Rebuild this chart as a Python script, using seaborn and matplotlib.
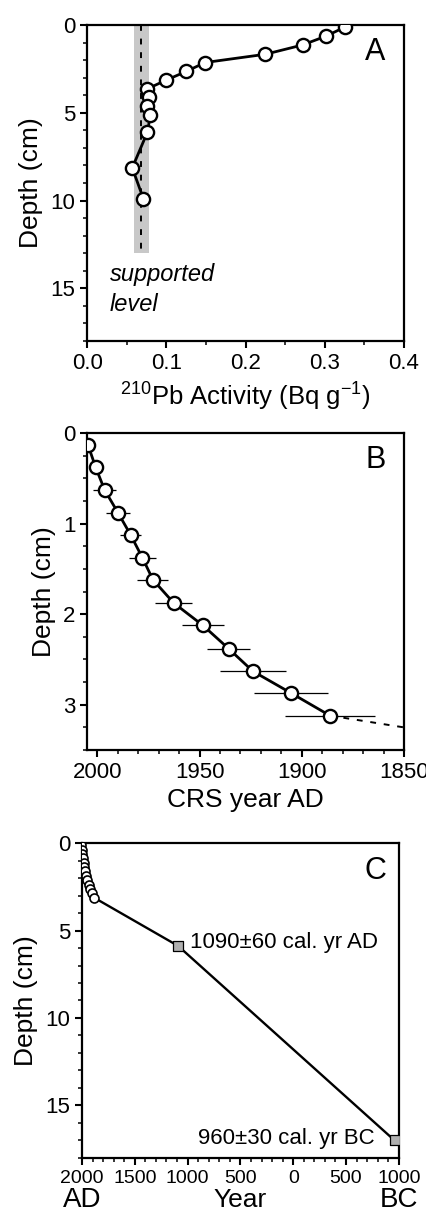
import matplotlib
matplotlib.use("Agg")
import matplotlib.pyplot as plt
from matplotlib.ticker import MultipleLocator, FixedLocator
import pandas as pd
import seaborn as sns

# panel A: 210Pb activity profile
pb_activity = [0.325, 0.302, 0.272, 0.225, 0.149, 0.125, 0.099, 0.076, 0.078, 0.075, 0.080, 0.076, 0.057, 0.071]
pb_depth = [0.13, 0.63, 1.14, 1.67, 2.14, 2.65, 3.16, 3.64, 4.13, 4.64, 5.13, 6.12, 8.14, 9.89]
supported_mean = 0.0685
supported_low = 0.059
supported_high = 0.078
supported_bottom = 13

# panel B: CRS ages
crs_depth = [0.13, 0.38, 0.63, 0.88, 1.125, 1.375, 1.62, 1.875, 2.125, 2.38, 2.63, 2.87, 3.12]
crs_year = [2004.6, 2000.8, 1996.4, 1989.9, 1983.7, 1978.0, 1972.8, 1962.7, 1948.3, 1935.8, 1923.9, 1905.3, 1886.2]
crs_err = [0.5, 2.0, 5.5, 5.7, 5.3, 6.7, 7.6, 9.0, 10.4, 10.4, 16.0, 18.0, 22.0]
extrap_year = [1886.2, 1850]
extrap_depth = [3.12, 3.25]

# panel C: age-depth model with radiocarbon dates
c14_year = [1090, -960]
c14_depth = [5.88, 17.0]
c14_labels = ["1090\u00b160 cal. yr AD", "960\u00b130 cal. yr BC"]

sns.set_style("ticks")
plt.rcParams["font.family"] = ["Liberation Sans", "DejaVu Sans"]
plt.rcParams["mathtext.fontset"] = "custom"
plt.rcParams["mathtext.rm"] = "Liberation Sans"
plt.rcParams["axes.linewidth"] = 1.6
plt.rcParams["text.color"] = "black"
plt.rcParams["axes.labelcolor"] = "black"

fig = plt.figure(figsize=(4.27, 12.17), dpi=100)
axA = fig.add_axes([0.204, 0.7198, 0.742, 0.2597])
axB = fig.add_axes([0.204, 0.3837, 0.742, 0.2605])
axC = fig.add_axes([0.192, 0.0485, 0.742, 0.2588])

for ax in (axA, axB, axC):
    ax.tick_params(which="major", direction="out", length=5, width=1.5, labelsize=16, colors="black")
    ax.tick_params(which="minor", direction="out", length=3, width=1.3)
    for s in ax.spines.values():
        s.set_color("black")

# ---- A
axA.fill_betweenx([0, supported_bottom], supported_low, supported_high, color="#c8c8c8", lw=0, zorder=1)
axA.plot([supported_mean, supported_mean], [0, supported_bottom], color="black", ls=(0, (3, 4)), lw=1.4, zorder=2)
dfA = pd.DataFrame({"act": pb_activity, "depth": pb_depth})
sns.lineplot(data=dfA, x="act", y="depth", sort=False, estimator=None, ax=axA, color="black", lw=2,
             marker="o", markersize=9.5, markerfacecolor="white", markeredgecolor="black", markeredgewidth=1.7, zorder=3)
axA.set_xlim(0, 0.4)
axA.set_ylim(18, 0)
axA.set_xticks([0, 0.1, 0.2, 0.3, 0.4])
axA.set_xticklabels(["0.0", "0.1", "0.2", "0.3", "0.4"])
axA.xaxis.set_minor_locator(MultipleLocator(0.05))
axA.yaxis.set_major_locator(MultipleLocator(5))
axA.yaxis.set_minor_locator(MultipleLocator(1))
axA.set_xlabel(r"$^{210}$Pb Activity (Bq g$^{-1}$)", fontsize=18.5, labelpad=4)
axA.set_ylabel("Depth (cm)", fontsize=19, labelpad=5)
axA.text(0.029, 14.2, "supported", style="italic", fontsize=17, va="center", ha="left")
axA.text(0.029, 15.9, "level", style="italic", fontsize=17, va="center", ha="left")
axA.text(0.91, 0.915, "A", transform=axA.transAxes, fontsize=22, ha="center", va="center")

# ---- B
axB.errorbar(crs_year, crs_depth, xerr=crs_err, fmt="none", ecolor="black", elinewidth=0.9, capsize=0, zorder=2)
axB.plot(extrap_year, extrap_depth, color="black", ls=(0, (3, 4)), lw=1.4, zorder=2)
dfB = pd.DataFrame({"year": crs_year, "depth": crs_depth})
sns.lineplot(data=dfB, x="year", y="depth", sort=False, estimator=None, ax=axB, color="black", lw=2,
             marker="o", markersize=9.5, markerfacecolor="white", markeredgecolor="black", markeredgewidth=1.7, zorder=3)
axB.set_xlim(2005, 1850)
axB.set_ylim(3.5, 0)
axB.xaxis.set_major_locator(FixedLocator([2000, 1950, 1900, 1850]))
axB.xaxis.set_minor_locator(MultipleLocator(10))
axB.yaxis.set_major_locator(MultipleLocator(1))
axB.yaxis.set_minor_locator(MultipleLocator(0.25))
axB.set_xlabel("CRS year AD", fontsize=19, labelpad=4)
axB.set_ylabel("Depth (cm)", fontsize=19, labelpad=5)
axB.text(0.91, 0.915, "B", transform=axB.transAxes, fontsize=22, ha="center", va="center")

# ---- C
model_year = crs_year + c14_year
model_depth = crs_depth + c14_depth
dfC = pd.DataFrame({"year": model_year, "depth": model_depth})
sns.lineplot(data=dfC, x="year", y="depth", sort=False, estimator=None, ax=axC, color="black", lw=1.7, zorder=2)
sns.scatterplot(x=crs_year, y=crs_depth, ax=axC, s=42, facecolor="white", edgecolor="black", linewidth=1.2, zorder=3)
sns.scatterplot(x=c14_year, y=c14_depth, ax=axC, marker="s", s=50, color="#b0b0b0", edgecolor="black", linewidth=0.9, zorder=4)
axC.text(c14_year[0] - 110, c14_depth[0] - 0.2, c14_labels[0], fontsize=16, ha="left", va="center")
axC.text(c14_year[1] + 190, c14_depth[1] - 0.1, c14_labels[1], fontsize=16, ha="right", va="center")
axC.set_xlim(2000, -1000)
axC.set_ylim(18, 0)
axC.xaxis.set_major_locator(FixedLocator([2000, 1500, 1000, 500, 0, -500, -1000]))
axC.set_xticklabels(["2000", "1500", "1000", "500", "0", "500", "1000"])
axC.xaxis.set_minor_locator(MultipleLocator(100))
axC.yaxis.set_major_locator(MultipleLocator(5))
axC.yaxis.set_minor_locator(MultipleLocator(1))
axC.tick_params(axis="x", labelsize=14)
axC.set_xlabel("Year", fontsize=19, labelpad=1)
axC.set_ylabel("Depth (cm)", fontsize=19, labelpad=5)
axC.text(0.0, -0.135, "AD", transform=axC.transAxes, fontsize=20, ha="center", va="center")
axC.text(1.0, -0.135, "BC", transform=axC.transAxes, fontsize=20, ha="center", va="center")
axC.text(0.925, 0.91, "C", transform=axC.transAxes, fontsize=22, ha="center", va="center")

fig.savefig("out.png", dpi=100)
